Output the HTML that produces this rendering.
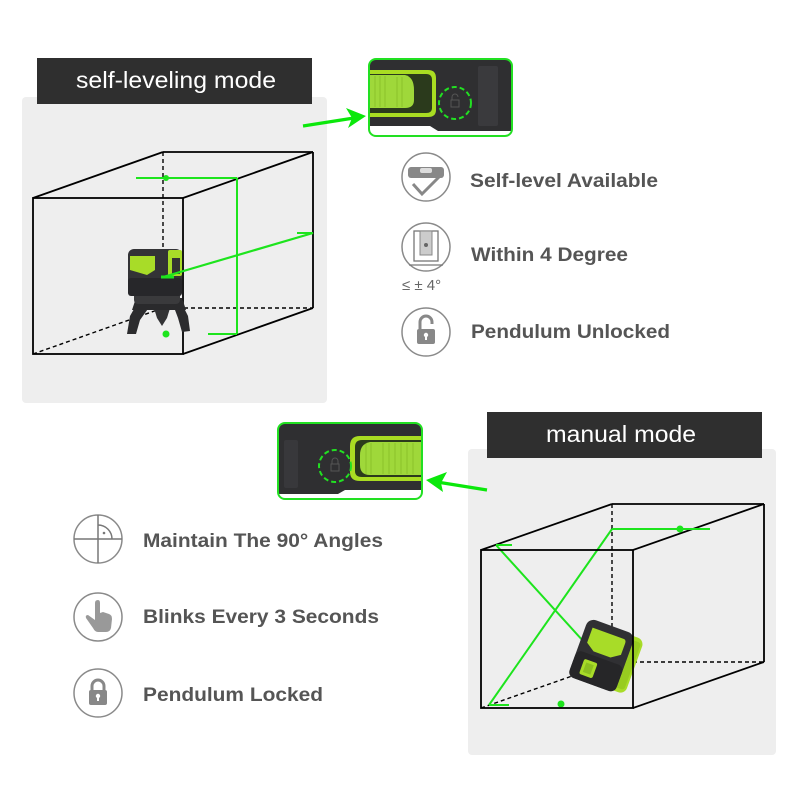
<!DOCTYPE html>
<html><head><meta charset="utf-8"><style>
html,body{margin:0;padding:0;background:#fff;}
svg{display:block;}
.t{font-family:"Liberation Sans",Arial,sans-serif;font-weight:bold;fill:#555;}
.h{font-family:"Liberation Sans",Arial,sans-serif;fill:#fff;}
</style></head><body>
<svg width="800" height="800" viewBox="0 0 800 800" xmlns="http://www.w3.org/2000/svg">
<rect width="800" height="800" fill="#fff"/>

<!-- ===== TOP PANEL ===== -->
<rect x="22" y="97" width="305" height="306" rx="4" fill="#eeeeee"/>
<rect x="37" y="58" width="275" height="46" fill="#2f2f2f"/>
<text class="h" x="76" y="88" font-size="23" textLength="200" lengthAdjust="spacingAndGlyphs">self-leveling mode</text>

<!-- cube top -->
<g stroke="#000" stroke-width="1.8" fill="none">
<line x1="163" y1="152" x2="163" y2="308" stroke-dasharray="4,3" stroke-width="1.4"/>
<line x1="163" y1="308" x2="313" y2="308" stroke-dasharray="4,3" stroke-width="1.4"/>
<line x1="33" y1="354" x2="163" y2="308" stroke-dasharray="4,3" stroke-width="1.4"/>
<rect x="33" y="198" width="150" height="156"/>
<line x1="33" y1="198" x2="163" y2="152"/>
<line x1="163" y1="152" x2="313" y2="152"/>
<line x1="183" y1="198" x2="313" y2="152"/>
<line x1="313" y1="152" x2="313" y2="308"/>
<line x1="183" y1="354" x2="313" y2="308"/>
</g>
<g stroke="#1de41d" stroke-width="2" fill="none">
<line x1="136" y1="178" x2="237" y2="178"/>
<line x1="237" y1="178" x2="237" y2="334"/>
<line x1="208" y1="334" x2="237" y2="334"/>
</g>
<circle cx="166" cy="178" r="3" fill="#1de41d"/>

<!-- top device -->
<g>
<path d="M138,302 L150,306 L140,320 L136,334 L127,334 L130,316 Z" fill="#2c2c2e"/>
<path d="M172,302 L182,304 L188,316 L190,331 L182,332 L178,318 Z" fill="#2c2c2e"/>
<path d="M153,305 L171,305 L167,318 L162,326 L157,318 Z" fill="#333335"/>
<path d="M136,298 L182,298 L186,310 L132,310 Z" fill="#2a2a2c"/>
<rect x="134" y="292" width="46" height="12" rx="4" fill="#3a3a3c"/>
<rect x="128" y="249" width="54" height="47" rx="6" fill="#333336"/>
<rect x="128" y="278" width="54" height="18" rx="3" fill="#27272a"/>
<path d="M130,256 L155,256 L155,270 L147,275 L130,270 Z" fill="#a8dc28"/>
<rect x="168" y="250" width="14" height="26" rx="2" fill="#a8dc28"/>
<rect x="172" y="258" width="8" height="16" fill="#333"/>
</g>
<circle cx="166" cy="334" r="3.5" fill="#1de41d"/>
<line x1="163" y1="277" x2="313" y2="233" stroke="#1de41d" stroke-width="2.2"/>
<line x1="161" y1="277" x2="174" y2="277" stroke="#1de41d" stroke-width="3"/>
<line x1="297" y1="233" x2="313" y2="233" stroke="#1de41d" stroke-width="2"/>

<!-- top arrow -->
<line x1="303" y1="126" x2="354" y2="118" stroke="#0be80b" stroke-width="3.2"/>
<polygon points="366,116 346,108 352,118 348,128" fill="#0be80b"/>

<!-- top inset -->
<g>
<rect x="369" y="59" width="143" height="77" rx="7" fill="#fff"/>
<path d="M369,66 Q369,59 376,59 L505,59 Q512,59 512,66 L512,131 L438,131 L430,126 L369,126 Z" fill="#2f2f31"/>
<path d="M369,70 L428,70 Q436,70 436,78 L436,110 Q436,117 428,117 L369,117 Z" fill="#a9dc22"/>
<path d="M369,74 L426,74 Q432,74 432,80 L432,108 Q432,113 426,113 L369,113 Z" fill="#2b3a1c"/>
<path d="M369,75 L405,75 Q414,77 414,90 L414,100 Q414,108 405,108 L369,108 Z" fill="#9fd83a"/>
<g stroke="#8bc22a" stroke-width="1"><line x1="375" y1="76" x2="375" y2="107"/><line x1="380" y1="76" x2="380" y2="107"/><line x1="385" y1="76" x2="385" y2="107"/><line x1="397" y1="77" x2="397" y2="107"/><line x1="402" y1="77" x2="402" y2="107"/></g>
<rect x="478" y="66" width="20" height="60" rx="2" fill="#3a3a3d"/>
<circle cx="455" cy="103" r="16" fill="none" stroke="#22e022" stroke-width="2" stroke-dasharray="5,3"/>
<rect x="451" y="100" width="8" height="7" fill="none" stroke="#555" stroke-width="1"/>
<path d="M452,100 v-3 a3,3 0 0 1 6,0" fill="none" stroke="#555" stroke-width="1"/>
<rect x="369" y="59" width="143" height="77" rx="7" fill="none" stroke="#22e022" stroke-width="2"/>
</g>

<!-- top icons -->
<g fill="#fff" stroke="#8a8a8a" stroke-width="1.5">
<circle cx="426" cy="177" r="24"/>
<circle cx="426" cy="247" r="24"/>
<circle cx="426" cy="332" r="24"/>
</g>
<rect x="408" y="167" width="36" height="11" rx="3" fill="#888"/>
<rect x="420" y="168" width="12" height="5" rx="2" fill="#ddd"/>
<path d="M413,184 L422,194 L440,176" fill="none" stroke="#888" stroke-width="3"/>
<rect x="414" y="231" width="24" height="30" fill="none" stroke="#777" stroke-width="1.3"/>
<rect x="420" y="231" width="12" height="24" fill="#ccc" stroke="#888" stroke-width="1"/>
<circle cx="426" cy="245" r="2" fill="#666"/>
<line x1="409" y1="265" x2="443" y2="265" stroke="#777" stroke-width="1.3"/>
<text x="402" y="290" font-family="Liberation Sans,Arial,sans-serif" font-size="15" fill="#666">≤ ± 4°</text>
<path d="M420,330 v-8 a6,6 0 0 1 12,0 v2" fill="none" stroke="#888" stroke-width="3"/>
<rect x="417" y="329" width="18" height="15" rx="2" fill="#888"/>
<circle cx="426" cy="335" r="2.2" fill="#fff"/>
<rect x="425" y="335" width="2" height="5" fill="#fff"/>

<text class="t" x="470" y="187" font-size="19" textLength="188" lengthAdjust="spacingAndGlyphs">Self-level Available</text>
<text class="t" x="471" y="261" font-size="19" textLength="157" lengthAdjust="spacingAndGlyphs">Within 4 Degree</text>
<text class="t" x="471" y="338" font-size="19" textLength="199" lengthAdjust="spacingAndGlyphs">Pendulum Unlocked</text>

<!-- ===== BOTTOM PANEL ===== -->
<rect x="468" y="449" width="308" height="306" rx="4" fill="#eeeeee"/>
<rect x="487" y="412" width="275" height="46" fill="#2f2f2f"/>
<text class="h" x="546" y="442" font-size="23" textLength="150" lengthAdjust="spacingAndGlyphs">manual mode</text>

<g stroke="#000" stroke-width="1.8" fill="none">
<line x1="612" y1="504" x2="612" y2="662" stroke-dasharray="4,3" stroke-width="1.4"/>
<line x1="612" y1="662" x2="764" y2="662" stroke-dasharray="4,3" stroke-width="1.4"/>
<line x1="481" y1="708" x2="612" y2="662" stroke-dasharray="4,3" stroke-width="1.4"/>
<line x1="481" y1="550" x2="612" y2="504"/>
<line x1="612" y1="504" x2="764" y2="504"/>
<line x1="633" y1="550" x2="764" y2="504"/>
<line x1="764" y1="504" x2="764" y2="662"/>
<line x1="633" y1="708" x2="764" y2="662"/>
</g>
<g stroke="#1de41d" stroke-width="2" fill="none">
<line x1="612" y1="529" x2="710" y2="529"/>
<line x1="612" y1="529" x2="489" y2="705"/>
<line x1="489" y1="705" x2="509" y2="705"/>
<line x1="496" y1="545" x2="512" y2="545"/>
<line x1="496" y1="545" x2="584" y2="642"/>
</g>
<circle cx="680" cy="529" r="3.5" fill="#1de41d"/>
<circle cx="561" cy="704" r="3.5" fill="#1de41d"/>

<!-- bottom device (tilted) -->
<g transform="translate(606,658) rotate(20)">
<rect x="-14" y="-30" width="44" height="58" rx="7" fill="#a8dc28"/>
<rect x="18" y="-26" width="10" height="50" rx="3" fill="#98cc20"/>
<rect x="-30" y="-32" width="50" height="62" rx="8" fill="#303033"/>
<rect x="-30" y="2" width="50" height="28" rx="6" fill="#262628"/>
<path d="M-23,-24 L10,-24 Q13,-24 13,-20 L13,-8 L4,-2 L-14,-2 L-23,-8 Z" fill="#a8dc28"/>
<rect x="-20" y="8" width="14" height="16" rx="2" fill="#a8dc28"/>
<rect x="-17" y="11" width="8" height="10" fill="#8cc020"/>
</g>
<rect x="481" y="550" width="152" height="158" fill="none" stroke="#000" stroke-width="1.8"/>

<!-- bottom inset -->
<g>
<rect x="278" y="423" width="144" height="76" rx="7" fill="#fff"/>
<path d="M285,423 L415,423 Q422,423 422,430 L422,490 L345,490 L338,494 L278,494 L278,430 Q278,423 285,423 Z" fill="#2f2f31"/>
<path d="M422,436 L360,436 Q350,436 350,446 L350,472 Q350,481 360,481 L422,481 Z" fill="#a9dc22"/>
<path d="M422,440 L362,440 Q355,440 355,447 L355,471 Q355,477 362,477 L422,477 Z" fill="#2b3a1c"/>
<path d="M422,442 L370,442 Q360,444 360,455 L360,465 Q360,475 370,475 L422,475 Z" fill="#9fd83a"/>
<g stroke="#8bc22a" stroke-width="1"><line x1="366" y1="444" x2="366" y2="474"/><line x1="371" y1="443" x2="371" y2="474"/><line x1="383" y1="443" x2="383" y2="474"/><line x1="389" y1="443" x2="389" y2="474"/><line x1="395" y1="443" x2="395" y2="474"/><line x1="401" y1="443" x2="401" y2="474"/><line x1="407" y1="443" x2="407" y2="474"/><line x1="413" y1="443" x2="413" y2="474"/></g>
<rect x="284" y="440" width="14" height="48" rx="2" fill="#38383b"/>
<circle cx="335" cy="466" r="16" fill="none" stroke="#22e022" stroke-width="2" stroke-dasharray="5,3"/>
<rect x="331" y="464" width="8" height="7" fill="none" stroke="#555" stroke-width="1"/>
<path d="M332,464 v-3 a3,3 0 0 1 6,0 v3" fill="none" stroke="#555" stroke-width="1"/>
<rect x="278" y="423" width="144" height="76" rx="7" fill="none" stroke="#22e022" stroke-width="2"/>
</g>

<!-- bottom arrow -->
<line x1="487" y1="490" x2="437" y2="482" stroke="#0be80b" stroke-width="3.2"/>
<polygon points="426,480 447,472 441,483 443,492" fill="#0be80b"/>

<!-- bottom icons -->
<g fill="#fff" stroke="#8a8a8a" stroke-width="1.5">
<circle cx="98" cy="539" r="24"/>
<circle cx="98" cy="617" r="24"/>
<circle cx="98" cy="693" r="24"/>
</g>
<g stroke="#777" stroke-width="1.5" fill="none">
<line x1="74" y1="539" x2="122" y2="539"/>
<line x1="98" y1="515" x2="98" y2="563"/>
<path d="M98,525 A14,14 0 0 1 112,539"/>
</g>
<circle cx="104" cy="533" r="1.3" fill="#777"/>
<path d="M95,603 Q95,600 98,600 Q100,600 100,603 L100,613 L103,612 L106,613 L109,614 Q112,615 112,619 L111,628 Q110,632 106,632 L98,632 Q95,632 93,628 L86,618 Q85,615 88,615 L95,620 Z" fill="#999"/>
<path d="M92,692 v-6 a6,6 0 0 1 12,0 v6" fill="none" stroke="#888" stroke-width="3"/>
<rect x="89" y="690" width="18" height="15" rx="2" fill="#888"/>
<circle cx="98" cy="696" r="2.2" fill="#fff"/>
<rect x="97" y="696" width="2" height="5" fill="#fff"/>

<text class="t" x="143" y="547" font-size="19" textLength="240" lengthAdjust="spacingAndGlyphs">Maintain The 90° Angles</text>
<text class="t" x="143" y="623" font-size="19" textLength="236" lengthAdjust="spacingAndGlyphs">Blinks Every 3 Seconds</text>
<text class="t" x="143" y="701" font-size="19" textLength="180" lengthAdjust="spacingAndGlyphs">Pendulum Locked</text>
</svg>
</body></html>
